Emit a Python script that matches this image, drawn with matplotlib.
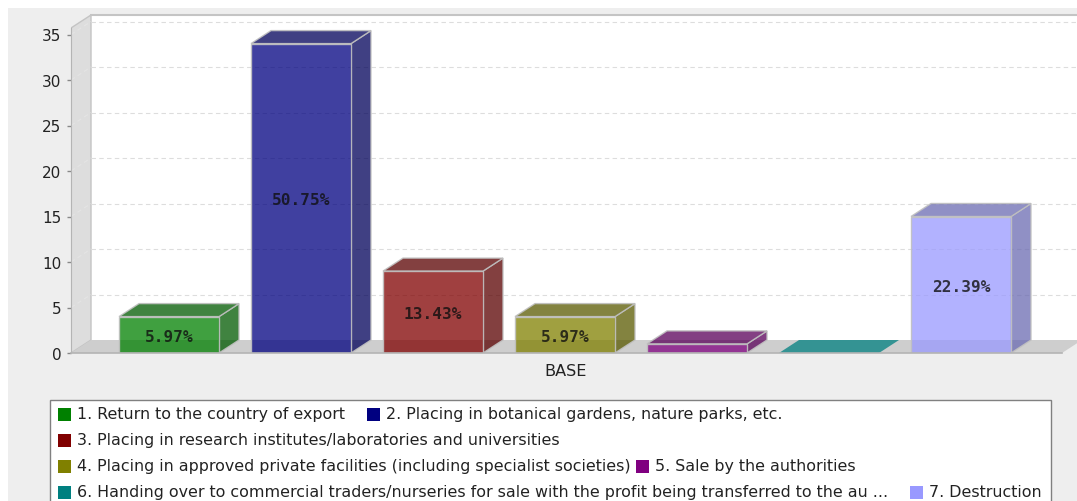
import matplotlib
matplotlib.use('Agg')
import matplotlib.pyplot as plt
from matplotlib.colors import to_rgba
from matplotlib.patches import Polygon, Rectangle

W, H = 1077, 502

# data
counts = [4, 34, 9, 4, 1, 0, 15]
bar_labels = ['5.97%', '50.75%', '13.43%', '5.97%', '', '', '22.39%']
colors = ['#008000', '#000080', '#800000', '#808000', '#800080', '#008080', '#9999ff']
dark_colors = ['#005900', '#000059', '#590000', '#595900', '#590059', '#005959', '#6b6bb2']
yticks = [0, 5, 10, 15, 20, 25, 30, 35]
category = 'BASE'

legend_rows = [
    [(0, '1. Return to the country of export', 58), (1, '2. Placing in botanical gardens, nature parks, etc.', 367)],
    [(2, '3. Placing in research institutes/laboratories and universities', 58)],
    [(3, '4. Placing in approved private facilities (including specialist societies)', 58), (4, '5. Sale by the authorities', 636)],
    [(5, '6. Handing over to commercial traders/nurseries for sale with the profit being transferred to the au ...', 58), (6, '7. Destruction', 910)],
]


def fx(px):
    return px / W


def fy(py):
    return 1 - py / H


fig = plt.figure(figsize=(W / 100, H / 100), dpi=100, facecolor='white')
fig.add_artist(Rectangle((fx(8), 0), 1 - fx(8), fy(9), transform=fig.transFigure,
                         facecolor='#eeeeee', edgecolor='none', zorder=-5))

# axes runs from the front left corner of the plot to the right edge of the image
ax = fig.add_axes([fx(71), fy(354), fx(W - 71), fy(16) - fy(354)])
ax.patch.set_visible(False)
px_per_cat = 132
px_per_unit = 9.1
ax.set_xlim((71 - 169) / px_per_cat, (W - 169) / px_per_cat)
ax.set_ylim(0, (354 - 16) / px_per_unit)
dx = 20 / px_per_cat
dy = 13 / px_per_unit
half = 50 / px_per_cat

x0 = ax.get_xlim()[0]
x1 = (1062 - 169) / px_per_cat
y_top = ax.get_ylim()[1]
frame = '#b4b4b4'

# walls and floor
ax.add_patch(Polygon([(x0 + dx, dy), (x1 + dx + 1, dy), (x1 + dx + 1, y_top), (x0 + dx, y_top)],
                     facecolor='white', edgecolor='none', zorder=1))
ax.add_patch(Polygon([(x0, 0), (x0 + dx, dy), (x0 + dx, y_top), (x0, y_top - dy)],
                     facecolor='#dddddd', edgecolor='#c4c4c4', lw=1, zorder=1))
ax.add_patch(Polygon([(x0, 0), (x0 + dx, dy), (x1 + dx, dy), (x1, 0)],
                     facecolor='#cecece', edgecolor='none', zorder=1))
ax.plot([x0 + dx, x1 + dx], [y_top, y_top], color='#c4c4c4', lw=1.5, zorder=2, clip_on=False)

# dashed grid on the back wall, carried over the side wall
for t in yticks[1:]:
    ax.plot([x0 + dx, x1 + dx], [t + dy, t + dy], color='#dddddd', lw=0.8, ls=(0, (4, 3)), zorder=2)
    ax.plot([x0, x0 + dx], [t, t + dy], color='#e4e4e4', lw=0.8, ls=(0, (4, 3)), zorder=2)

# bars
edge = to_rgba('#c0c0c0', 0.9)
for i, v in enumerate(counts):
    l, r = i - half, i + half
    face = to_rgba(colors[i], 0.75)
    shade = to_rgba(dark_colors[i], 0.75)
    if v > 0:
        ax.add_patch(Polygon([(r, 0), (r + dx, dy), (r + dx, v + dy), (r, v)],
                             facecolor=shade, edgecolor=edge, lw=1, zorder=3))
        ax.add_patch(Polygon([(l, v), (l + dx, v + dy), (r + dx, v + dy), (r, v)],
                             facecolor=shade, edgecolor=edge, lw=1, zorder=3))
        ax.add_patch(Rectangle((l, 0), 2 * half, v, facecolor=face, edgecolor=edge, lw=1, zorder=4))
    else:
        # empty category only shows a flat lid on the floor
        ax.add_patch(Polygon([(l, v), (l + dx, v + dy), (r + dx, v + dy), (r, v)],
                             facecolor=face, edgecolor='none', zorder=3))
    if bar_labels[i]:
        ax.annotate(bar_labels[i], (i, v / 2), xytext=(0, -1.2), textcoords='offset points',
                    ha='center', va='center', family='DejaVu Sans Mono',
                    fontweight='bold', fontsize=11.6, color='#101010', alpha=0.8, zorder=5)

for s in ['top', 'right', 'bottom']:
    ax.spines[s].set_visible(False)
ax.spines['left'].set_bounds(0, y_top - dy)
ax.spines['left'].set_color(frame)
ax.set_yticks(yticks)
ax.tick_params(axis='y', length=3, width=1, color='#888888', labelsize=11, labelcolor='#222222', pad=4)
ax.set_xticks([])
ax.plot([x0, x1], [0, 0], color=frame, lw=1.2, zorder=6, clip_on=False)
ax.text((566 - 169) / px_per_cat, -17 / px_per_unit, category, ha='center', va='center',
        fontsize=11.6, color='#222222')

# legend box runs past the bottom of the image
fig.add_artist(Rectangle((fx(50), fy(512)), fx(1051 - 50), fy(401) - fy(512), transform=fig.transFigure,
                         facecolor='white', edgecolor='#808080', lw=1))
for row, entries in enumerate(legend_rows):
    y = 415 + row * 26
    for idx, text, px in entries:
        fig.add_artist(Rectangle((fx(px), fy(y + 6.5)), 13 / W, 13 / H, transform=fig.transFigure,
                                 facecolor=colors[idx], edgecolor='none'))
        fig.text(fx(px + 19), fy(y), text, ha='left', va='center', fontsize=11.4, color='#222222')

fig.savefig('out.png', dpi=100)
